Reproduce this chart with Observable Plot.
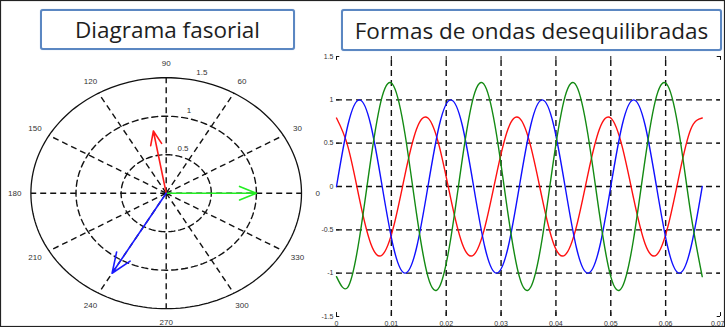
<!DOCTYPE html>
<html>
<head>
<meta charset="utf-8">
<script src="https://cdn.jsdelivr.net/npm/d3@7"></script>
<script src="https://cdn.jsdelivr.net/npm/@observablehq/plot@0.6"></script>
<style>
  html, body { margin: 0; padding: 0; background: #ffffff; }
  #wrap { position: relative; width: 725px; height: 327px; overflow: hidden; background: #fff; }
  #wrap svg { position: absolute; left: 0; top: 0; }
  .tbox {
    position: absolute; box-sizing: border-box; background: #fff;
    border: 2.5px solid #5b87c2; border-radius: 3px;
    box-shadow: 0 0 1px #9db6da;
    font-family: "Open Sans", "Noto Sans", sans-serif; font-size: 22.5px; color: #1e1e1e;
    display: flex; align-items: center; justify-content: center; white-space: nowrap;
    z-index: 5;
  }
</style>
</head>
<body>
<div id="wrap">
  <div class="tbox" id="t1" style="left:40px; top:9px; width:255px; height:41px;"></div>
  <div class="tbox" id="t2" style="left:341px; top:9px; width:381px; height:42px;"></div>
</div>
<script>
// ---------- Titles ----------
const titles = ["Diagrama fasorial", "Formas de ondas desequilibradas"];

// ---------- Phasor diagram data ----------
const phasorNames = ["A", "B", "C"];
const phasorMag = [1.0, 0.82, 1.2];
const phasorAngle = [0, 100, 240];           // degrees
const phasorColor = ["#22ee22", "#ff1a1a", "#1a1aff"];
const angleTicks = [0, 30, 60, 90, 120, 150, 180, 210, 240, 270, 300, 330];
const angleLabels = ["0", "30", "60", "90", "120", "150", "180", "210", "240", "270", "300", "330"];
const radiusTicks = [0.5, 1, 1.5];
const radiusLabels = ["0.5", "1", "1.5"];

// ---------- Waveform samples (every 1/480 s) ----------
const sampleT = [
  0, 0.00208, 0.00417, 0.00625, 0.00833, 0.01042, 0.0125, 0.01458,
  0.01667, 0.01875, 0.02083, 0.02292, 0.025, 0.02708, 0.02917, 0.03125,
  0.03333, 0.03542, 0.0375, 0.03958, 0.04167, 0.04375, 0.04583, 0.04792,
  0.05, 0.05208, 0.05417, 0.05625, 0.05833, 0.06042, 0.0625, 0.06458, 0.06667
];
const blueV = [
  0, 0.71, 1, 0.71, 0, -0.71, -1, -0.71,
  0, 0.71, 1, 0.71, 0, -0.71, -1, -0.71,
  0, 0.71, 1, 0.71, 0, -0.71, -1, -0.71,
  0, 0.71, 1, 0.71, 0, -0.71, -1, -0.71, 0
];
const greenV = [
  -1.04, -1.16, -0.6, 0.31, 1.04, 1.16, 0.6, -0.31,
  -1.04, -1.16, -0.6, 0.31, 1.04, 1.16, 0.6, -0.31,
  -1.04, -1.16, -0.6, 0.31, 1.04, 1.16, 0.6, -0.31,
  -1.04, -1.16, -0.6, 0.31, 1.04, 1.16, 0.6, -0.31, -1.04
];
const redV = [
  0.79, 0.46, -0.14, -0.66, -0.79, -0.46, 0.14, 0.66,
  0.79, 0.46, -0.14, -0.66, -0.79, -0.46, 0.14, 0.66,
  0.79, 0.46, -0.14, -0.66, -0.79, -0.46, 0.14, 0.66,
  0.79, 0.46, -0.14, -0.66, -0.79, -0.46, 0.14, 0.66, 0.79
];
const waveColor = {blue: "#1010ff", red: "#ff1010", green: "#138a13"};
const xTicks = [0, 0.01, 0.02, 0.03, 0.04, 0.05, 0.06, 0.07];
const xTickLabels = ["0", "0.01", "0.02", "0.03", "0.04", "0.05", "0.06", "0.07"];
const yTicks = [-1.5, -1, -0.5, 0, 0.5, 1, 1.5];
const yTickLabels = ["-1.5", "-1", "-0.5", "0", "0.5", "1", "1.5"];

document.getElementById("t1").textContent = titles[0];
document.getElementById("t2").textContent = titles[1];

const wrap = document.getElementById("wrap");
const FONT = "Liberation Sans, Arial, sans-serif";
const DASH = "6,4";

// ---------- Polar (phasor) plot ----------
const rad = d => d * Math.PI / 180;
const circleSteps = d3.range(0, 361, 2);
const circles = radiusTicks.flatMap(r => circleSteps.map(a => ({r, x: r * Math.cos(rad(a)), y: r * Math.sin(rad(a))})));
const rMax = d3.max(radiusTicks);
const spokes = angleTicks.map(a => ({a, x: rMax * Math.cos(rad(a)), y: rMax * Math.sin(rad(a))}));
const angleLab = angleTicks.map((a, i) => ({t: angleLabels[i], x: 1.68 * Math.cos(rad(a)), y: 1.68 * Math.sin(rad(a))}));
const radLab = radiusTicks.map((r, i) => ({t: radiusLabels[i], x: (r + 0.1) * Math.cos(rad(78)), y: (r + 0.1) * Math.sin(rad(78))}));
const phasors = phasorNames.map((n, i) => ({
  n, c: phasorColor[i], m: phasorMag[i],
  x: phasorMag[i] * Math.cos(rad(phasorAngle[i])),
  y: phasorMag[i] * Math.sin(rad(phasorAngle[i]))
}));

const polar = Plot.plot({
  width: 725, height: 327,
  style: {background: "transparent", overflow: "visible"},
  x: {domain: [-1.5, 1.5], range: [30.4, 301], axis: null},
  y: {domain: [-1.5, 1.5], range: [308.2, 77.2], axis: null},
  marks: [
    Plot.line(circles.filter(d => d.r < rMax), {x: "x", y: "y", z: "r", stroke: "#111", strokeWidth: 1.4, strokeDasharray: DASH}),
    Plot.link(spokes, {x1: 0, y1: 0, x2: "x", y2: "y", stroke: "#111", strokeWidth: 1.4, strokeDasharray: DASH}),
    Plot.line(circles.filter(d => d.r === rMax), {x: "x", y: "y", stroke: "#111", strokeWidth: 1.3}),
    Plot.text(angleLab, {x: "x", y: "y", text: "t", fontSize: 8, fill: "#333", fontFamily: FONT}),
    Plot.text(radLab, {x: "x", y: "y", text: "t", fontSize: 8, fill: "#333", fontFamily: FONT, textAnchor: "start"}),
    ...phasors.map(p => Plot.arrow([p], {
      x1: 0, y1: 0, x2: "x", y2: "y", stroke: p.c, strokeWidth: 1.6,
      headLength: 17 * p.m, headAngle: 44
    }))
  ]
});
wrap.appendChild(polar);

// ---------- Waveform plot ----------
const toRows = (V, s) => sampleT.map((t, i) => ({t, v: V[i], s}));
const waves = [
  ...toRows(redV, "red"),
  ...toRows(blueV, "blue"),
  ...toRows(greenV, "green")
];
const xMin = d3.min(xTicks), xMax = d3.max(xTicks), yMin = d3.min(yTicks), yMax = d3.max(yTicks);
const xGrid = xTicks.filter(t => t > xMin && t < xMax);
const yGrid = yTicks.filter(t => t > yMin && t < yMax);
const tickLenY = 0.045, tickLenX = 0.0006;
const xLab = xTicks.map((d, i) => ({d, t: xTickLabels[i], last: i === xTicks.length - 1}));

const wave = Plot.plot({
  width: 725, height: 327,
  style: {background: "transparent", overflow: "visible"},
  x: {domain: [xMin, xMax], range: [336, 720], axis: null},
  y: {domain: [yMin, yMax], range: [316, 56], axis: null},
  marks: [
    Plot.ruleX(xGrid, {y1: yMin, y2: yMax, stroke: "#111", strokeWidth: 1.4, strokeDasharray: DASH}),
    Plot.ruleY(yGrid, {x1: xMin, x2: xMax, stroke: "#111", strokeWidth: 1.4, strokeDasharray: DASH}),
    Plot.ruleX(xTicks, {y1: yMin, y2: yMin + tickLenY, stroke: "#111"}),
    Plot.ruleX(xTicks, {y1: yMax, y2: yMax - tickLenY, stroke: "#111"}),
    Plot.ruleY(yTicks, {x1: xMin, x2: xMin + tickLenX, stroke: "#111"}),
    Plot.ruleY(yTicks, {x1: xMax, x2: xMax - tickLenX, stroke: "#111"}),
    Plot.line(waves, {x: "t", y: "v", z: "s", stroke: d => waveColor[d.s], strokeWidth: 1.4, curve: "natural"}),
    Plot.frame({stroke: "#222", strokeWidth: 1.2}),
    Plot.text(xLab.filter(d => !d.last), {x: "d", y: yMin, text: "t", dy: 7, fontSize: 7, fill: "#333", fontFamily: FONT}),
    Plot.text(xLab.filter(d => d.last), {x: "d", y: yMin, text: "t", dy: 7, dx: 4, textAnchor: "end", fontSize: 7, fill: "#333", fontFamily: FONT}),
    Plot.text(yTicks, {x: xMin, y: d => d, text: (d, i) => yTickLabels[i], dx: -3, textAnchor: "end", fontSize: 7, fill: "#333", fontFamily: FONT})
  ]
});
wrap.appendChild(wave);
</script>
</body>
</html>
